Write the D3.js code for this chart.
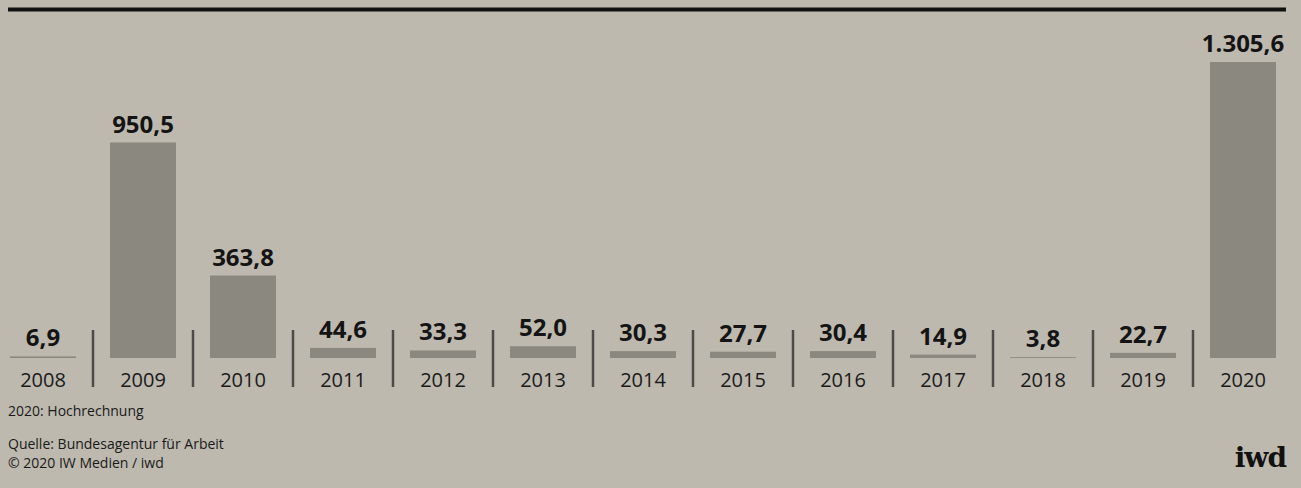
<!DOCTYPE html>
<html>
<head>
<meta charset="utf-8">
<script src="https://cdn.jsdelivr.net/npm/d3@7"></script>
<style>
  html, body { margin: 0; padding: 0; background: #bdb9ae; }
  svg { display: block; }
</style>
</head>
<body>
<div id="chart"></div>
<script>
const years = ["2008", "2009", "2010", "2011", "2012", "2013", "2014", "2015", "2016", "2017", "2018", "2019", "2020"];
const values = [6.9, 950.5, 363.8, 44.6, 33.3, 52.0, 30.3, 27.7, 30.4, 14.9, 3.8, 22.7, 1305.6];
const footnote = "2020: Hochrechnung";
const sourceLines = ["Quelle: Bundesagentur für Arbeit", "© 2020 IW Medien / iwd"];

function init() {
    const width = 1301, height = 488;
    const baseline = 358;
    const fmt = v => v.toLocaleString("de-DE", { minimumFractionDigits: 1, maximumFractionDigits: 1 });

    const svg = d3.select("#chart")
        .append("svg")
        .attr("width", width)
        .attr("height", height);

    svg.append("rect")
        .attr("width", width)
        .attr("height", height)
        .attr("fill", "#bdb9ae");

    // top rule
    svg.append("line")
        .attr("x1", 8).attr("x2", 1286)
        .attr("y1", 9.5).attr("y2", 9.5)
        .attr("stroke", "#111")
        .attr("stroke-width", 4);

    const x = d3.scaleBand()
        .domain(years)
        .range([-7, 1293])
        .paddingInner(0.34)
        .paddingOuter(0.17);

    const y = d3.scaleLinear()
        .domain([0, 1305.6])
        .range([baseline, 62]);

    const data = years.map((yr, i) => ({ year: yr, value: values[i] }));

    svg.append("g")
        .selectAll("rect")
        .data(data)
        .join("rect")
        .attr("x", d => x(d.year))
        .attr("y", d => y(d.value))
        .attr("width", x.bandwidth())
        .attr("height", d => baseline - y(d.value))
        .attr("fill", "#8b8880");

    svg.append("g")
        .selectAll("text")
        .data(data)
        .join("text")
        .attr("x", d => x(d.year) + x.bandwidth() / 2)
        .attr("y", d => y(d.value) - 10)
        .attr("text-anchor", "middle")
        .attr("font-family", "'Open Sans', sans-serif")
        .attr("font-weight", "bold")
        .attr("font-size", "24px")
        .attr("fill", "#141414")
        .text(d => fmt(d.value));

    // year labels
    svg.append("g")
        .selectAll("text")
        .data(years)
        .join("text")
        .attr("x", d => x(d) + x.bandwidth() / 2)
        .attr("y", 387)
        .attr("text-anchor", "middle")
        .attr("font-family", "'Open Sans', sans-serif")
        .attr("font-size", "20px")
        .attr("fill", "#1a1a1a")
        .text(d => d);

    // separators
    const gap = x.step() - x.bandwidth();
    svg.append("g")
        .selectAll("line")
        .data(years.slice(0, -1))
        .join("line")
        .attr("x1", d => x(d) + x.bandwidth() + gap / 2)
        .attr("x2", d => x(d) + x.bandwidth() + gap / 2)
        .attr("y1", 330)
        .attr("y2", 387)
        .attr("stroke", "#4d4b47")
        .attr("stroke-width", 2.5);

    svg.append("text")
        .attr("x", 8)
        .attr("y", 416)
        .attr("font-family", "'Open Sans', sans-serif")
        .attr("font-size", "14px")
        .attr("fill", "#1a1a1a")
        .text(footnote);

    svg.append("g")
        .selectAll("text")
        .data(sourceLines)
        .join("text")
        .attr("x", 8)
        .attr("y", (d, i) => 449 + i * 19)
        .attr("font-family", "'Open Sans', sans-serif")
        .attr("font-size", "14px")
        .attr("fill", "#1a1a1a")
        .text(d => d);

    // logo
    svg.append("text")
        .attr("x", 1286)
        .attr("y", 467)
        .attr("text-anchor", "end")
        .attr("font-family", "'DejaVu Serif', serif")
        .attr("font-weight", "bold")
        .attr("font-size", "28px")
        .attr("letter-spacing", "-1px")
        .attr("fill", "#111")
        .text("iwd");
}

window.onload = init;
</script>
</body>
</html>
